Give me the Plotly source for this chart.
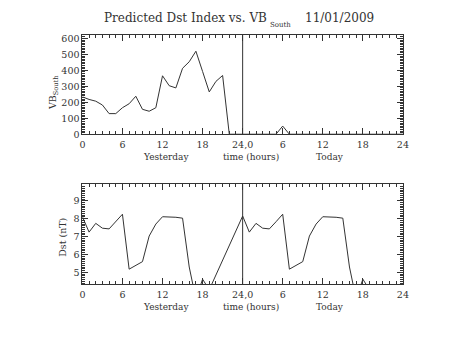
import plotly.graph_objects as go

# ---------------- data ----------------
hours_vb = list(range(0, 49))
vb_south = [234, 218, 207, 183, 129, 129, 166, 191, 238, 156, 144, 166,
            366, 304, 290, 413, 454, 520, 393, 265, 331, 368,
            0, 0, 0, 0, 0, 0, 0, 0, 51, 0,
            0, 0, 0, 0, 0, 0, 0, 0, 0, 0, 0, 0, 0, 0, 0, 0, 0]

hours_dst = list(range(0, 20)) + list(range(24, 44))
dst_nt = [8.11, 7.25, 7.74, 7.47, 7.43, 7.83, 8.25, 5.18, 5.38, 5.60,
          7.03, 7.70, 8.11, 8.11, 8.08, 8.03, 5.30, 3.50, 4.62, 4.03,
          8.15, 7.25, 7.74, 7.47, 7.43, 7.83, 8.25, 5.18, 5.38, 5.60,
          7.03, 7.70, 8.11, 8.11, 8.08, 8.03, 5.30, 3.50, 4.62, 4.03]

now_hour = 24
tick_vals = [0, 6, 12, 18, 24, 30, 36, 42, 48]
tick_text = ["0", "6", "12", "18", "24,0", "6", "12", "18", "24"]
title_main = "Predicted Dst Index vs. VB"
title_sub = "South"
title_date = "11/01/2009"

# ---------------- figure ----------------
W, H = 453, 340
FONT = "DejaVu Serif"
INK = "#333333"

def px(x):
    return x / W

def py(y):
    return 1 - y / H

fig = go.Figure()
fig.add_trace(go.Scatter(x=hours_vb, y=vb_south, mode="lines",
                         line=dict(color=INK, width=1), xaxis="x", yaxis="y",
                         showlegend=False, hoverinfo="skip"))
fig.add_trace(go.Scatter(x=hours_dst, y=dst_nt, mode="lines",
                         line=dict(color=INK, width=1), xaxis="x2", yaxis="y2",
                         showlegend=False, hoverinfo="skip"))

common_axis = dict(showline=True, linecolor=INK, linewidth=1, mirror="allticks",
                   ticks="inside", ticklen=6, tickcolor=INK, tickwidth=1,
                   showgrid=False, zeroline=False,
                   tickfont=dict(family=FONT, size=9.5, color=INK))

xdom = [px(81), px(408)]
xcommon = dict(common_axis, range=[0, 48], domain=xdom, tickmode="array",
               tickvals=tick_vals, ticktext=tick_text, ticklabelstandoff=1,
               minor=dict(ticks="inside", dtick=1, ticklen=3, tickcolor=INK, tickwidth=1))

fig.update_layout(
    width=W, height=H,
    margin=dict(l=0, r=0, t=0, b=0),
    paper_bgcolor="white", plot_bgcolor="white",
    xaxis=dict(xcommon, anchor="y"),
    yaxis=dict(common_axis, range=[0, 624], domain=[py(135), py(33.3)], anchor="x",
               tickmode="array", tickvals=[0, 100, 200, 300, 400, 500, 600],
               minor=dict(ticks="inside", dtick=10, ticklen=3, tickcolor=INK, tickwidth=1)),
    xaxis2=dict(xcommon, anchor="y2"),
    yaxis2=dict(common_axis, range=[4.33, 9.93], domain=[py(288.3), py(186)], anchor="x2",
                tickmode="array", tickvals=[5, 6, 7, 8, 9],
                minor=dict(ticks="inside", dtick=0.1, ticklen=3, tickcolor=INK, tickwidth=1)),
)

# "now" markers
for xr, yr in (("x", "y domain"), ("x2", "y2 domain")):
    fig.add_shape(type="line", xref=xr, yref=yr, x0=now_hour, x1=now_hour, y0=0, y1=1,
                  line=dict(color=INK, width=1))

ann = []
tf = dict(family=FONT, size=12, color=INK)
ann.append(dict(text=title_main, x=px(270), y=py(16), xanchor="right", yanchor="middle", font=tf))
ann.append(dict(text=title_sub, x=px(271), y=py(23), xanchor="left", yanchor="middle",
                font=dict(family=FONT, size=7, color=INK)))
ann.append(dict(text=title_date, x=px(307), y=py(16), xanchor="left", yanchor="middle", font=tf))

lf = dict(family=FONT, size=9.5, color=INK)
bf = dict(family=FONT, size=9, color=INK)
for ylab in (158.5, 311.5):
    ann.append(dict(text="Yesterday", x=px(166), y=py(ylab), xanchor="center", yanchor="middle", font=bf))
    ann.append(dict(text="time (hours)", x=px(253), y=py(ylab), xanchor="center", yanchor="middle", font=bf))
    ann.append(dict(text="Today", x=px(334), y=py(ylab), xanchor="center", yanchor="middle", font=bf))

ann.append(dict(text="VB<sub>South</sub>", x=px(51), y=py(92), textangle=-90,
                xanchor="center", yanchor="middle", font=lf))
ann.append(dict(text="Dst (nT)", x=px(60), y=py(240), textangle=-90,
                xanchor="center", yanchor="middle", font=lf))

for a in ann:
    a.update(xref="paper", yref="paper", showarrow=False, borderpad=0)
fig.update_layout(annotations=ann)

fig.write_html("out.html")
